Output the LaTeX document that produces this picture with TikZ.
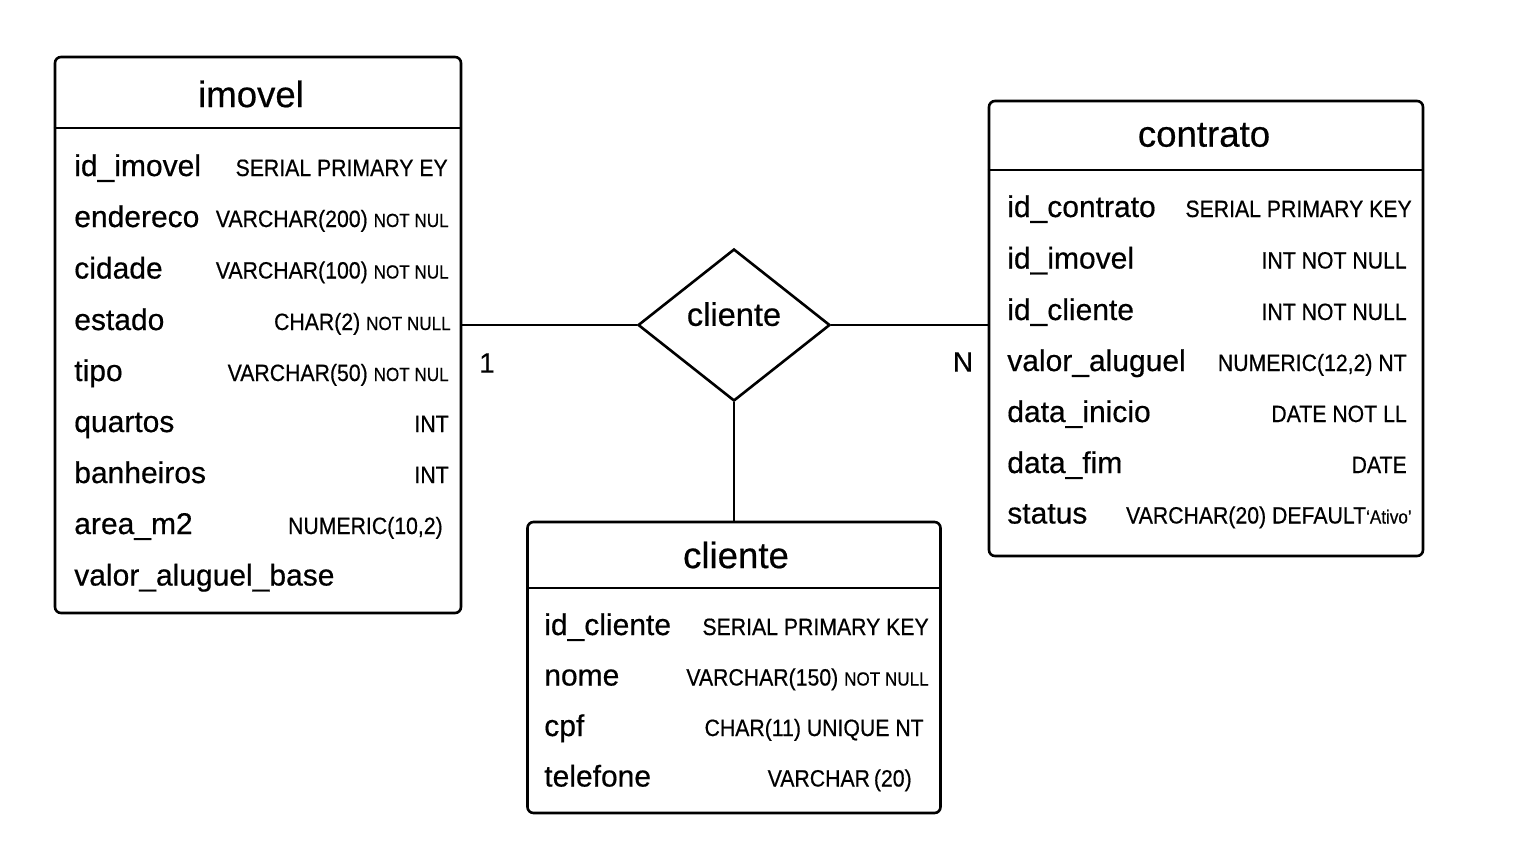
\documentclass[tikz,border=0pt]{standalone}
\usepackage{fontspec}
\setmainfont[FakeBold=0.5]{Liberation Sans}
\newfontfamily\typfont[FakeStretch=0.9, FakeBold=0.5]{Liberation Sans}
\usetikzlibrary{shapes.geometric}
\newcommand{\sm}[1]{{\fontsize{9.5}{10}\selectfont #1}}
\tikzset{
  tbl/.style={draw, rounded corners=3pt, line width=1.3pt},
  ttl/.style={font=\fontsize{18.3}{20}\selectfont},
  fld/.style={anchor=base west, inner sep=0pt, font=\fontsize{15}{18}\selectfont},
  typ/.style={anchor=base east, inner sep=0pt, font=\typfont\fontsize{11.8}{13}\selectfont},
  rel/.style={draw, diamond, line width=1.3pt, minimum width=96pt, minimum height=76pt, inner sep=0pt, text depth=11pt, font=\fontsize{16.3}{19}\selectfont},
  card/.style={font=\fontsize{14}{16}\selectfont}
}
\begin{document}
\begin{tikzpicture}[x=0.5pt, y=-0.5pt, line width=1.3pt]
      \useasboundingbox (0,0) rectangle (1536,864);
      \node[tbl, minimum width=203pt, minimum height=278pt] (imovel) at (258,335) {};
      \node[tbl, minimum width=217pt, minimum height=227.5pt] (contrato) at (1206,328.5) {};
      \node[tbl, minimum width=206.5pt, minimum height=145.5pt] (cliente) at (734,667.5) {};
      \node[rel] (r) at (734,325) {cliente};
      \node[ttl] (imovelH) at (251,94) {imovel};
      \node[ttl] (contratoH) at (1204,135) {contrato};
      \node[ttl] (clienteH) at (736,555) {cliente};
      \draw (imovel.west |- 0,128) -- (imovel.east |- 0,128);
      \draw (contrato.west |- 0,170) -- (contrato.east |- 0,170);
      \draw (cliente.west |- 0,588) -- (cliente.east |- 0,588);
      \node[fld] (i1) at (73,176) {id\_imovel};
      \node[fld] (i2) at (73,227) {endereco};
      \node[fld] (i3) at (73,278.5) {cidade};
      \node[fld] (i4) at (73,330) {estado};
      \node[fld] (i5) at (73,381) {tipo};
      \node[fld] (i6) at (73,432) {quartos};
      \node[fld] (i7) at (73,483) {banheiros};
      \node[fld] (i8) at (73,534) {area\_m2};
      \node[fld] (i9) at (73,585.5) {valor\_aluguel\_base};
      \node[typ] (it1) at (449,176) {SERIAL PRIMARY EY};
      \node[typ] (it2) at (450,227) {VARCHAR(200) \sm{NOT NUL}};
      \node[typ] (it3) at (450,278.5) {VARCHAR(100) \sm{NOT NUL}};
      \node[typ] (it4) at (452,330) {CHAR(2) \sm{NOT NULL}};
      \node[typ] (it5) at (450,381) {VARCHAR(50) \sm{NOT NUL}};
      \node[typ] (it6) at (450,432) {INT};
      \node[typ] (it7) at (450,483) {INT};
      \node[typ] (it8) at (444,534) {NUMERIC(10,2)};
      \node[fld] (c1) at (1006,217) {id\_contrato};
      \node[fld] (c2) at (1006,268.5) {id\_imovel};
      \node[fld] (c3) at (1006,320) {id\_cliente};
      \node[fld] (c4) at (1006,371) {valor\_aluguel};
      \node[fld] (c5) at (1006,422) {data\_inicio};
      \node[fld] (c6) at (1006,473) {data\_fim};
      \node[fld] (c7) at (1006,523.5) {status};
      \node[typ] (ct1) at (1413,217) {SERIAL PRIMARY KEY};
      \node[typ] (ct2) at (1408,268.5) {INT NOT NULL};
      \node[typ] (ct3) at (1408,320) {INT NOT NULL};
      \node[typ] (ct4) at (1408,371) {NUMERIC(12,2) NT};
      \node[typ] (ct5) at (1408,422) {DATE NOT LL};
      \node[typ] (ct6) at (1408,473) {DATE};
      \node[typ] (ct7) at (1413,523.5) {VARCHAR(20) DEFAULT\sm{‘Ativo’}};
      \node[fld] (k1) at (543,635) {id\_cliente};
      \node[fld] (k2) at (543,685.5) {nome};
      \node[fld] (k3) at (543,736) {cpf};
      \node[fld] (k4) at (543,786.5) {telefone};
      \node[typ] (kt1) at (930,635) {SERIAL PRIMARY KEY};
      \node[typ] (kt2) at (930,685.5) {VARCHAR(150) \sm{NOT NULL}};
      \node[typ] (kt3) at (925,736) {CHAR(11) UNIQUE NT};
      \node[typ] (kt4) at (913,786.5) {VARCHAR\,(20)};
      \node[card] (one) at (487,363) {1};
      \node[card] (n) at (963,362) {N};
      \draw (imovel.east |- r) -- (r.west);
      \draw (r.east) -- (contrato.west |- r);
      \draw (r.south) -- (cliente.north);
    \end{tikzpicture}
\end{document}
